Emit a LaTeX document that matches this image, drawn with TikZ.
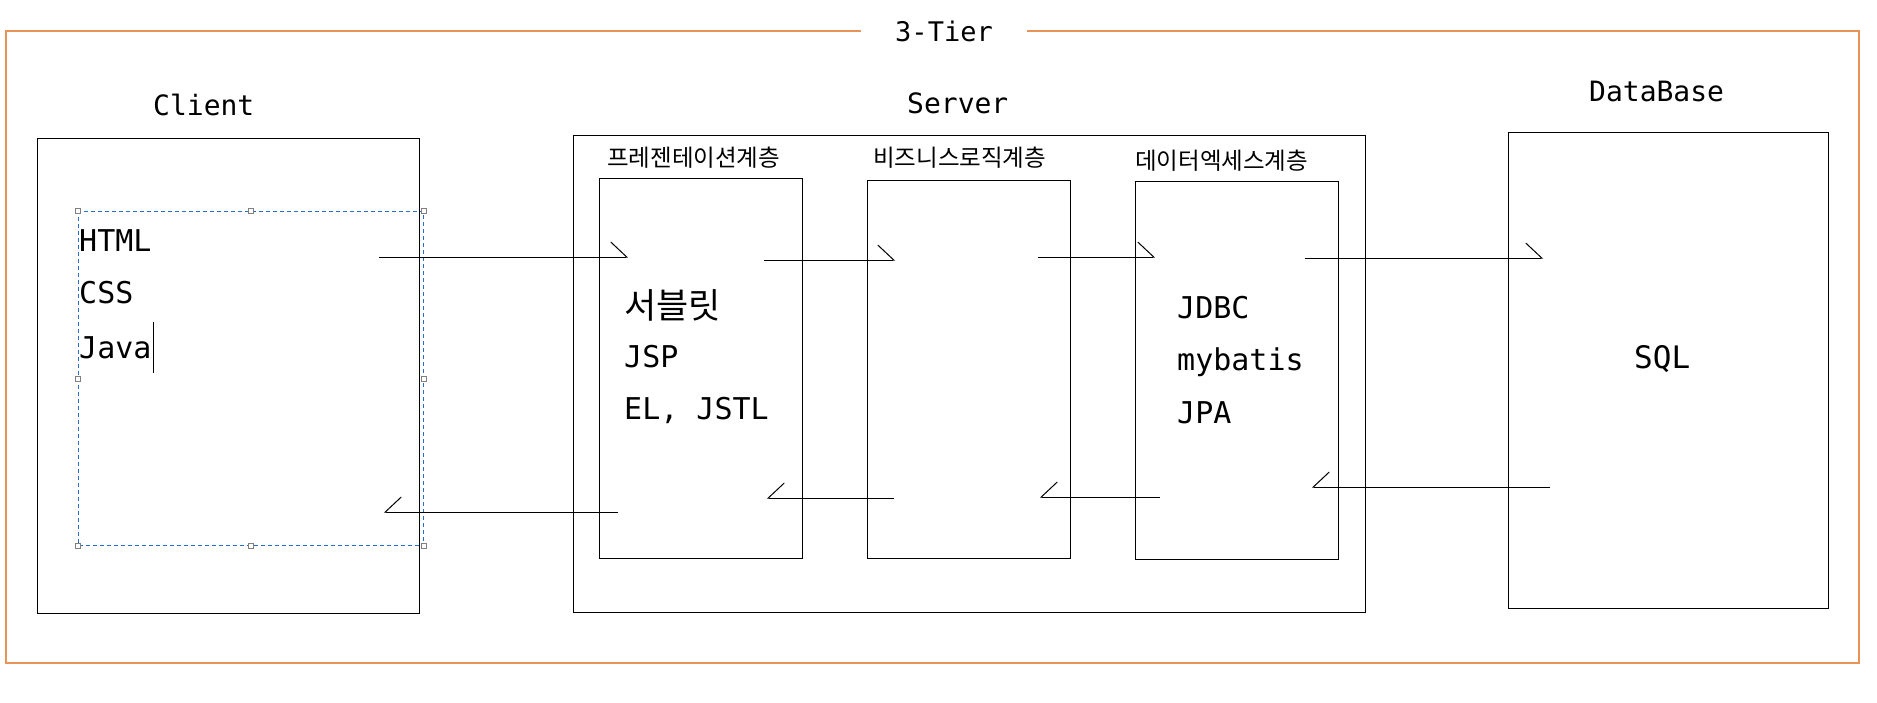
\documentclass[tikz,border=0pt]{standalone}
\usepackage{fontspec}
\setmainfont{DejaVu Sans Mono}
\newfontfamily\krfont{Noto Sans CJK KR}
\usetikzlibrary{arrows.meta}
\definecolor{frameorange}{RGB}{232,148,88}
\definecolor{selblue}{RGB}{40,110,200}
\tikzset{
  box/.style={draw,line width=1.2pt,anchor=north west,inner sep=0pt},
  txt/.style={inner sep=0pt,anchor=base west,font=\fontsize{30}{36}\selectfont},
  head/.style={inner sep=0pt,anchor=base west,font=\fontsize{28}{32}\selectfont},
  layer/.style={inner sep=0pt,anchor=base west,font=\krfont\fontsize{23.5}{28}\selectfont},
  go/.style={line width=1pt,-{Straight Barb[left,length=16pt,width=30pt]}},
  back/.style={line width=1pt,-{Straight Barb[right,length=16pt,width=30pt]}},
  handle/.style={draw=gray,fill=white,line width=0.6pt}
}
\begin{document}
\begin{tikzpicture}[x=1pt,y=-1pt]
\useasboundingbox (0,0) rectangle (1877,702);
\node[inner sep=0pt,minimum width=165pt,font=\fontsize{27}{32}\selectfont] (tier) at (944,31) {3-Tier};
\draw[frameorange,line width=1.2pt] (tier.east) -| (1859,663) -| (6,31) -- (tier.west);

\node[head] (clientlbl) at (153,115) {Client};
\node[head] (serverlbl) at (907,113) {Server};
\node[head] (dblbl) at (1589,101) {DataBase};

\node[box,minimum width=382pt,minimum height=475pt] (client) at (37,138) {};
\node[box,minimum width=792pt,minimum height=477pt] (server) at (573,135) {};
\node[box,minimum width=203pt,minimum height=380pt] (pres) at (599,178) {};
\node[box,minimum width=203pt,minimum height=378pt] (biz) at (867,180) {};
\node[box,minimum width=203pt,minimum height=378pt] (dao) at (1135,181) {};
\node[box,minimum width=320pt,minimum height=476pt] (db) at (1508,132) {};

\node[layer] (preslbl) at (607,166) {프레젠테이션계층};
\node[layer] (bizlbl) at (873,166) {비즈니스로직계층};
\node[layer] (daolbl) at (1135,169) {데이터엑세스계층};

\node[draw=selblue,line width=1pt,dash pattern=on 4pt off 3pt,anchor=north west,
  minimum width=345pt,minimum height=334pt,inner sep=0pt] (sel) at (78,211) {};
\foreach \a in {north west,north,north east,east,south east,south,south west,west}
  \draw[handle] ([shift={(-2.5,-2.5)}]sel.\a) rectangle ++(5,5);

\node[txt] (html) at (79,251) {HTML};
\node[txt] (css) at (79,303) {CSS};
\node[txt] (java) at (79,358) {Java};
\draw[line width=1pt] (153,322) -- (153,373);

\node[txt,font=\krfont\fontsize{35}{40}\selectfont] (servlet) at (624,318) {서블릿};
\node[txt] (jsp) at (624,367) {JSP};
\node[txt] (jstl) at (624,419) {EL, JSTL};

\node[txt] (jdbc) at (1177,318) {JDBC};
\node[txt] (mybatis) at (1177,370) {mybatis};
\node[txt] (jpa) at (1177,423) {JPA};

\node[txt,font=\fontsize{31}{36}\selectfont] (sql) at (1634,368) {SQL};

\coordinate (client-out) at (379,257);
\coordinate (pres-in) at (628,257);
\coordinate (pres-out) at (764,260);
\coordinate (biz-in) at (895,260);
\coordinate (biz-out) at (1038,257);
\coordinate (dao-in) at (1155,257);
\coordinate (dao-out) at (1305,258);
\coordinate (db-in) at (1543,258);
\coordinate (db-ret) at (1550,487);
\coordinate (dao-back) at (1312,487);
\coordinate (dao-ret) at (1160,497);
\coordinate (biz-back) at (1040,497);
\coordinate (biz-ret) at (894,498);
\coordinate (pres-back) at (767,498);
\coordinate (pres-ret) at (618,512);
\coordinate (client-back) at (384,512);

\draw[go] (client-out) -- (pres-in);
\draw[go] (pres-out) -- (biz-in);
\draw[go] (biz-out) -- (dao-in);
\draw[go] (dao-out) -- (db-in);
\draw[back] (db-ret) -- (dao-back);
\draw[back] (dao-ret) -- (biz-back);
\draw[back] (biz-ret) -- (pres-back);
\draw[back] (pres-ret) -- (client-back);
\end{tikzpicture}
\end{document}
